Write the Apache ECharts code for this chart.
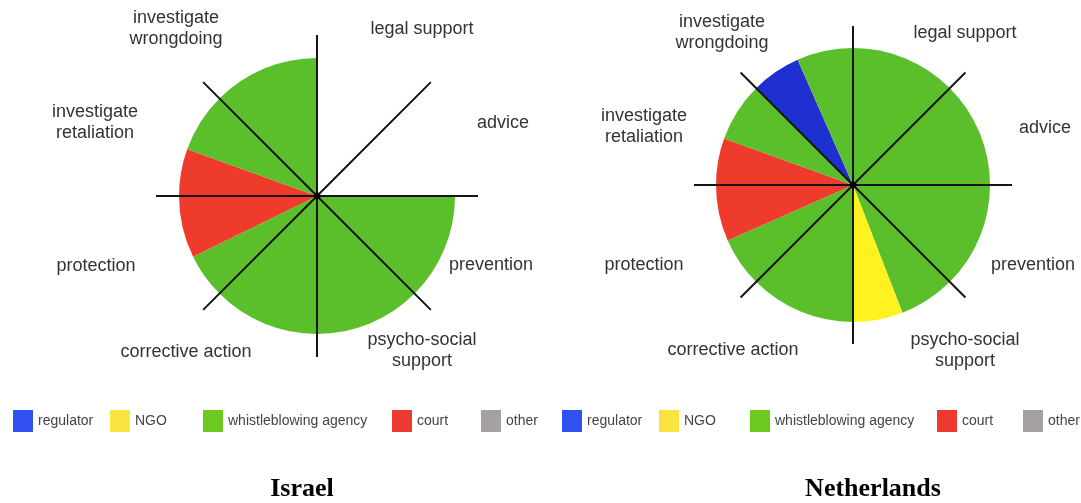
<!DOCTYPE html>
<html>
<head>
<meta charset="utf-8">
<script src="https://cdn.jsdelivr.net/npm/echarts@6/dist/echarts.min.js"></script>
<style>
html,body{margin:0;padding:0;background:#fff;}
#main{width:1081px;height:503px;}
</style>
</head>
<body>
<div id="main"></div>
<script>
// ---- data ----
const functions = ['legal support', 'advice', 'prevention', 'psycho-social support',
  'corrective action', 'protection', 'investigate retaliation', 'investigate wrongdoing'];
const functionLabels = ['legal support', 'advice', 'prevention', 'psycho-social\nsupport',
  'corrective action', 'protection', 'investigate\nretaliation', 'investigate\nwrongdoing'];
const actors = ['regulator', 'NGO', 'whistleblowing agency', 'court', 'other'];
const countries = ['Israel', 'Netherlands'];

// share of each function (one 45° sector) per actor, in clockwise order
const israelShares = [
  [],
  [],
  [['whistleblowing agency', 1]],
  [['whistleblowing agency', 1]],
  [['whistleblowing agency', 1]],
  [['whistleblowing agency', 0.42], ['court', 0.58]],
  [['court', 0.44], ['whistleblowing agency', 0.56]],
  [['whistleblowing agency', 1]]
];
const netherlandsShares = [
  [['whistleblowing agency', 1]],
  [['whistleblowing agency', 1]],
  [['whistleblowing agency', 1]],
  [['whistleblowing agency', 0.53], ['NGO', 0.47]],
  [['whistleblowing agency', 1]],
  [['whistleblowing agency', 0.47], ['court', 0.53]],
  [['court', 0.44], ['whistleblowing agency', 0.56]],
  [['regulator', 0.47], ['whistleblowing agency', 0.53]]
];

// ---- styles / layout ----
const sliceColors = {
  'regulator': '#1f30d2', 'NGO': '#fff220', 'whistleblowing agency': '#5bbf2c',
  'court': '#ef3b2c', 'other': '#a5a1a3'
};
const legendColors = {
  'regulator': '#3050f0', 'NGO': '#fbe340', 'whistleblowing agency': '#6cc91f',
  'court': '#ec3a30', 'other': '#a5a1a3'
};
const charts = [
  { center: [317, 196], pieR: 138, lineR: 161, titleX: 302,
    legendX: [13, 110, 203, 392, 481],
    labels: [[422, 29], [503, 123], [491, 265], [422, 351], [186, 352], [96, 266], [95, 123], [176, 29]] },
  { center: [853, 185], pieR: 137, lineR: 159, titleX: 873,
    legendX: [562, 659, 750, 937, 1023],
    labels: [[965, 33], [1045, 128], [1033, 265], [965, 351], [733, 350], [644, 265], [644, 127], [722, 33]] }
];

function buildPie(shares) {
  const data = [];
  shares.forEach(sector => {
    let used = 0;
    sector.forEach(([actor, v]) => {
      used += v;
      data.push({ name: actor, value: v, itemStyle: { color: sliceColors[actor] } });
    });
    if (used < 1 - 1e-9) {
      data.push({ name: '', value: 1 - used, itemStyle: { color: 'rgba(0,0,0,0)' } });
    }
  });
  actors.forEach(a => data.push({ name: a, value: 0, itemStyle: { color: sliceColors[a] } }));
  return data;
}

const allShares = [israelShares, netherlandsShares];
const series = [];
const polar = [], angleAxis = [], radiusAxis = [], legend = [], graphic = [];

charts.forEach((c, i) => {
  series.push({
    type: 'pie', center: c.center, radius: c.pieR, startAngle: 90, clockwise: true,
    minAngle: 0, avoidLabelOverlap: false, silent: true, z: 2,
    label: { show: false }, labelLine: { show: false },
    emphasis: { disabled: true, scale: false },
    itemStyle: { borderWidth: 0 },
    data: buildPie(allShares[i])
  });
  polar.push({ center: c.center, radius: c.lineR });
  angleAxis.push({
    polarIndex: i, type: 'value', min: 0, max: 360, interval: 45, startAngle: 90, clockwise: true,
    z: 10, axisLine: { show: false }, axisTick: { show: false }, axisLabel: { show: false },
    splitLine: { show: true, lineStyle: { color: '#151515', width: 2 } }
  });
  radiusAxis.push({ polarIndex: i, type: 'value', min: 0, max: 1, show: false });
  series.push({
    type: 'scatter', coordinateSystem: 'polar', polarIndex: i, z: 20, silent: true,
    symbolSize: 7, itemStyle: { color: '#000' }, data: [[0, 0]]
  });
  actors.forEach((a, k) => {
    legend.push({
      left: c.legendX[k], top: 410, padding: 0, itemWidth: 20, itemHeight: 22,
      icon: 'rect', selectedMode: false,
      textStyle: { fontSize: 14, color: '#444', fontFamily: '"Liberation Sans", Arial, sans-serif' },
      data: [{ name: a, itemStyle: { color: legendColors[a] } }]
    });
  });
  functionLabels.forEach((t, k) => {
    graphic.push({
      type: 'text', silent: true, z: 30,
      style: {
        text: t, x: c.labels[k][0], y: c.labels[k][1],
        align: 'center', verticalAlign: 'middle', lineHeight: 21,
        font: '18px "Liberation Sans", Arial, sans-serif', fill: '#333'
      }
    });
  });
  graphic.push({
    type: 'text', silent: true, z: 30,
    style: {
      text: countries[i], x: c.titleX, y: 489, align: 'center', verticalAlign: 'middle',
      font: 'bold 26px "Liberation Serif", "Times New Roman", serif', fill: '#000'
    }
  });
});

const chart = echarts.init(document.getElementById('main'));
chart.setOption({
  animation: false,
  backgroundColor: '#fff',
  polar, angleAxis, radiusAxis, legend, graphic, series
});
</script>
</body>
</html>
